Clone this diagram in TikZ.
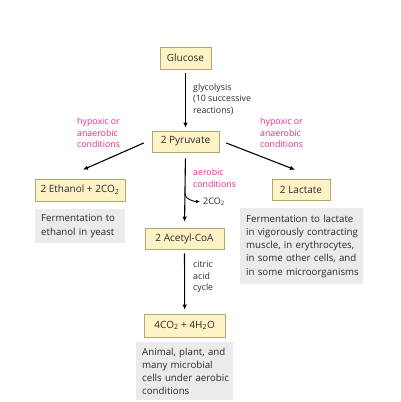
\documentclass[tikz,border=0pt]{standalone}
\usepackage{fontspec}
\setmainfont{Open Sans}
\usetikzlibrary{arrows.meta,calc}
\definecolor{boxfill}{HTML}{FDF3C6}
\definecolor{boxline}{HTML}{B3A870}
\definecolor{grayfill}{HTML}{EBEBEB}
\definecolor{pinktxt}{HTML}{E8288C}
\definecolor{txt}{HTML}{2A2A2A}
\newcommand{\myline}[1]{\mbox{#1}}
\begin{document}
\begin{tikzpicture}[x=1pt,y=-1pt,
  ybox/.style={draw=boxline, fill=boxfill, line width=0.6pt, minimum height=22pt, inner xsep=4pt, inner ysep=0pt, font=\fontsize{10}{11}\selectfont, text=txt},
  gbox/.style={fill=grayfill, anchor=north west, align=left, inner xsep=6pt, inner ysep=4pt, font=\fontsize{9.7}{13.2}\selectfont, text=txt},
  lbl/.style={anchor=west, align=left, inner sep=0pt, font=\fontsize{8.8}{11.6}\selectfont, text=txt},
  plbl/.style={lbl, text=pinktxt},
  arr/.style={line width=1.1pt, -{Latex[length=5pt,width=4.5pt]}},
  sarr/.style={line width=0.9pt, -{Latex[length=4pt,width=3.6pt]}}
]
\useasboundingbox (0,0) rectangle (401,402);
% yellow boxes
\node[ybox, minimum width=51pt] (glu) at (185.5,58) {Glucose};
\node[ybox, minimum width=67pt, minimum height=21pt] (pyr) at (185.5,141.5) {2 Pyruvate};
\node[ybox, minimum width=90pt] (eth) at (80,190) {2 Ethanol + 2CO\textsubscript{2}};
\node[ybox, minimum width=58pt, minimum height=21pt] (lac) at (301,189.5) {2 Lactate};
\node[ybox, minimum width=79pt, minimum height=21pt] (acc) at (184.5,238.5) {2 Acetyl-CoA};
\node[ybox, minimum width=81pt, minimum height=23pt] (fin) at (184.7,325.5) {4CO\textsubscript{2} + 4H\textsubscript{2}O};
% gray description boxes
\node[gbox, text width=78pt, minimum height=34pt] (deth) at (35,209) {\myline{Fermentation to}\\\myline{ethanol in yeast}};
\node[gbox, text width=111pt, minimum height=76pt] (dlac) at (240,208) {\myline{Fermentation to lactate}\\\myline{in vigorously contracting}\\\myline{muscle, in erythrocytes,}\\\myline{in some other cells, and}\\\myline{in some microorganisms}};
\node[gbox, text width=85pt, minimum height=58pt] (dfin) at (136,342) {\myline{Animal, plant, and}\\\myline{many microbial}\\\myline{cells under aerobic}\\\myline{conditions}};
% labels
\node[lbl] (gly) at (193,99) {glycolysis\\(10 successive\\reactions)};
\node[plbl] (hl) at (77,133) {hypoxic or\\anaerobic\\conditions};
\node[plbl] (hr) at (260,133) {hypoxic or\\anaerobic\\conditions};
\node[plbl] (aer) at (193,178) {aerobic\\conditions};
\node[lbl] (cac) at (193,277) {citric\\acid\\cycle};
\node[lbl, font=\fontsize{9}{10}\selectfont] (co2b) at (203,201.5) {2CO\textsubscript{2}};
% arrows
\draw[arr, shorten <=4pt, shorten >=3pt] (glu.south) -- (pyr.north);
\draw[arr, shorten <=6pt, shorten >=6pt] (pyr.south) -- (acc.north);
\draw[arr, shorten <=4pt, shorten >=4pt] (acc.south) -- (fin.north);
\draw[arr] ($(pyr.west)+(-8,1.5)$) -- ($(eth.north)+(3,-9)$);
\draw[arr] ($(pyr.east)+(7,1.5)$) -- ($(lac.north)+(-6,-9)$);
\coordinate (br) at ($(pyr.south)+(-0.8,41)$);
\draw[sarr, shorten >=3pt] (br) .. controls ($(br)+(0,6)$) and ($(co2b.west)+(-9,0)$) .. (co2b.west);
\end{tikzpicture}
\end{document}
